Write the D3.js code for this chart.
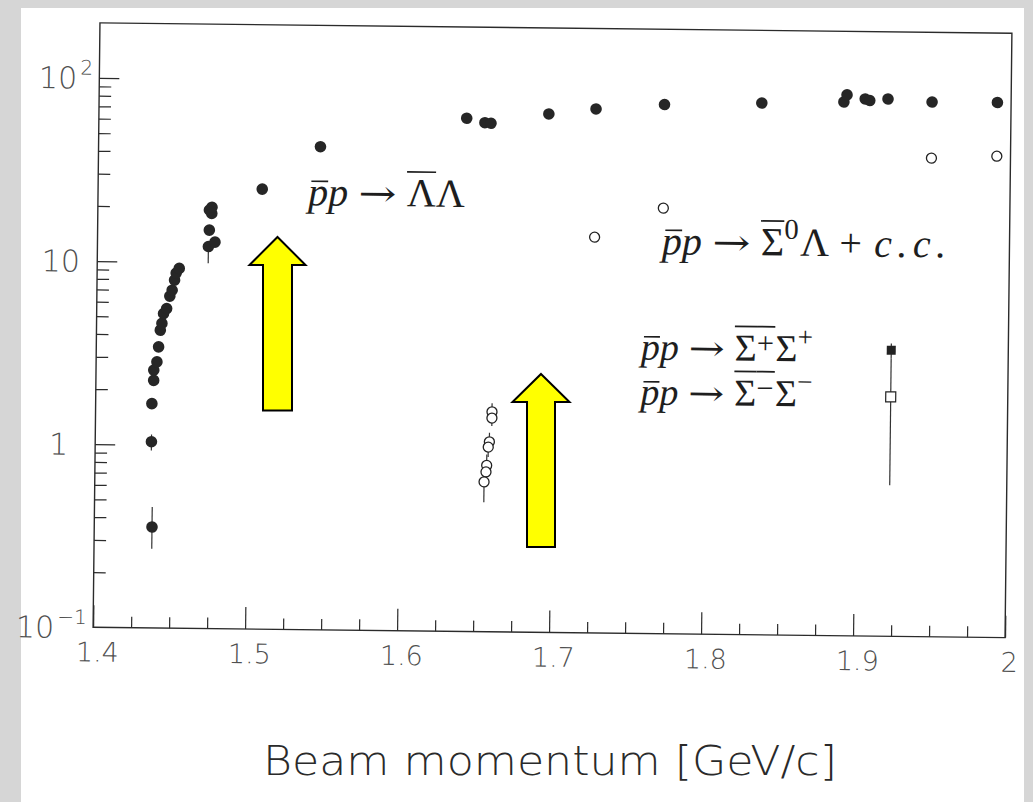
<!DOCTYPE html>
<html>
<head>
<meta charset="utf-8">
<script src="https://cdn.jsdelivr.net/npm/d3@7/dist/d3.min.js"></script>
<style>
  html, body { margin: 0; padding: 0; background: #d6d6d6; }
  svg { display: block; }
</style>
</head>
<body>
<svg id="chart" width="1033" height="802"></svg>
<script>
// ---- p̄p → Λ̄Λ cross sections (filled circles) ----
const lamP = [1.438, 1.437, 1.437, 1.438, 1.438, 1.440, 1.441, 1.442, 1.443, 1.444,
              1.446, 1.448, 1.4495, 1.451, 1.452, 1.454, 1.473, 1.4735, 1.4773, 1.475,
              1.4734, 1.4751, 1.508, 1.546, 1.642, 1.654, 1.658, 1.696, 1.727, 1.772,
              1.836, 1.890, 1.892, 1.904, 1.907, 1.919, 1.948, 1.991];
const lamXs = [0.356, 1.04, 1.68, 2.25, 2.56, 2.84, 3.43, 4.23, 4.61, 5.22,
               5.56, 6.50, 7.01, 7.96, 8.70, 9.23, 12.2, 15.0, 12.9, 18.5,
               19.3, 20.0, 25.3, 43.5, 63.5, 60.2, 59.8, 67.8, 72.7, 77.6,
               80.2, 82.2, 89.9, 85.7, 84.1, 85.9, 83.2, 83.5];
// error bars drawn for the Λ̄Λ points where they stick out of the marker
const lamErrP  = [1.438, 1.437, 1.473];
const lamErrLo = [0.271, 0.93, 9.9];
const lamErrHi = [0.458, 1.14, 12.2];

// ---- p̄p → Σ̄⁰Λ + c.c. (open circles) ----
const s0P  = [1.727, 1.772, 1.948, 1.991, 1.6608, 1.6608, 1.6593, 1.6586, 1.6577, 1.6573, 1.6561];
const s0Xs = [14.5, 21.1, 41.1, 42.5, 1.59, 1.47, 1.09, 1.02, 0.81, 0.746, 0.658];
const s0Lo = [14.5, 21.1, 41.1, 42.5, 1.45, 1.33, 0.97, 0.90, 0.70, 0.64, 0.51];
const s0Hi = [14.5, 21.1, 41.1, 42.5, 1.77, 1.62, 1.22, 1.14, 0.93, 0.86, 0.78];

// ---- p̄p → Σ̄⁺Σ⁺ (filled square) and p̄p → Σ̄⁻Σ⁻ (open square) ----
const spP  = [1.923];
const spXs = [3.65];
const spLo = [3.3];
const spHi = [3.97];
const smP  = [1.923];
const smXs = [2.03];
const smLo = [0.668];
const smHi = [3.3];

// axis ticks
const xMajor = [1.4, 1.5, 1.6, 1.7, 1.8, 1.9, 2.0];
const xMajorLabels = ["1.4", "1.5", "1.6", "1.7", "1.8", "1.9", "2"];
const yDecades = [0.1, 1, 10, 100];
const yDecadeBase = ["10", "1", "10", "10"];
const yDecadeExp  = ["\u22121", "", "", "2"];
const xTitle = "Beam momentum [GeV/c]";

// ---- layout ----
const svg = d3.select("#chart");
const W = 1033, H = 802;
const frame = { left: 96.5, right: 1008.5, top: 28, bottom: 632.5 };
const tilt = 0.65;             // the plotted page sits slightly askew
const ink = "#2b2b2b";
const labelInk = "#505050";
const sansLabel = "DejaVu Sans, Verdana, sans-serif";

svg.append("rect").attr("x", 21).attr("y", 8).attr("width", 1003).attr("height", H - 8)
   .attr("fill", "#ffffff");

const x = d3.scaleLinear().domain([1.4, 2.0]).range([frame.left, frame.right]);
const y = d3.scaleLog().domain([0.1, 200]).range([frame.bottom, frame.top]);

const plot = svg.append("g")
  .attr("transform", `rotate(${tilt}, ${(frame.left + frame.right) / 2}, ${(frame.top + frame.bottom) / 2})`);

// frame
plot.append("rect")
  .attr("x", frame.left).attr("y", frame.top)
  .attr("width", frame.right - frame.left).attr("height", frame.bottom - frame.top)
  .attr("fill", "none").attr("stroke", ink).attr("stroke-width", 1.4);

// x axis: major + minor ticks pointing inward
const xMinor = d3.range(0, 25).map(i => 1.4 + i * 0.025).filter(v => Math.abs((v * 10) - Math.round(v * 10)) > 1e-6);
const gx = plot.append("g").attr("transform", `translate(0,${frame.bottom})`);
gx.call(d3.axisBottom(x).tickValues(xMajor).tickSize(-22).tickPadding(15)
          .tickFormat((d, i) => xMajorLabels[i]));
gx.append("g").call(d3.axisBottom(x).tickValues(xMinor).tickSize(-11).tickFormat(""));
gx.selectAll(".domain").remove();
gx.selectAll("line").attr("stroke", ink).attr("stroke-width", 1.2);
gx.selectAll("text").attr("font-family", sansLabel).attr("font-weight", 200)
  .attr("font-size", 27).attr("fill", labelInk).attr("dx", 4);

// y axis: decade + minor ticks pointing inward
const yMinor = [];
[0.1, 1, 10].forEach(d => { for (let k = 2; k <= 9; k++) yMinor.push(d * k); });
const gy = plot.append("g").attr("transform", `translate(${frame.left},0)`);
gy.call(d3.axisLeft(y).tickValues(yDecades.slice(1)).tickSize(-20).tickFormat(""));
gy.append("g").call(d3.axisLeft(y).tickValues(yMinor).tickSize(-12).tickFormat(""));
gy.selectAll(".domain").remove();
gy.selectAll("line").attr("stroke", ink).attr("stroke-width", 1.2);

// decade labels with superscript exponents
yDecades.forEach((d, i) => {
  const t = plot.append("text")
    .attr("y", y(d)).attr("dy", "0.36em")
    .attr("font-family", sansLabel).attr("font-weight", 200).attr("font-size", 30)
    .attr("fill", labelInk);
  const base = t.append("tspan").text(yDecadeBase[i]);
  if (yDecadeExp[i]) {
    t.append("tspan").attr("dy", "-0.7em").attr("dx", 3).attr("font-size", 20).text(yDecadeExp[i]);
  }
  const bw = base.node().getComputedTextLength();
  const tw = t.node().getComputedTextLength() + (yDecadeExp[i] ? 3 : 0);
  // mantissa centred near x = 60, whole label kept clear of the axis
  let x0 = 60 - bw / 2;
  if (x0 + tw > 90) x0 = 90 - tw;
  t.attr("x", x0);
});

// ---- data marks ----
const errStroke = "#333";
function errBars(ps, lo, hi) {
  plot.append("g").selectAll("line").data(ps).join("line")
    .attr("x1", d => x(d)).attr("x2", d => x(d))
    .attr("y1", (d, i) => y(lo[i])).attr("y2", (d, i) => y(hi[i]))
    .attr("stroke", errStroke).attr("stroke-width", 1.2);
}
errBars(lamErrP, lamErrLo, lamErrHi);
errBars(s0P, s0Lo, s0Hi);
errBars(spP, spLo, spHi);
errBars(smP, smLo, smHi);

plot.append("g").selectAll("circle").data(lamP).join("circle")
  .attr("cx", d => x(d)).attr("cy", (d, i) => y(lamXs[i])).attr("r", 5.8)
  .attr("fill", "#262626");

plot.append("g").selectAll("circle").data(s0P).join("circle")
  .attr("cx", d => x(d)).attr("cy", (d, i) => y(s0Xs[i])).attr("r", 5)
  .attr("fill", "#ffffff").attr("stroke", "#222").attr("stroke-width", 1.3);

plot.append("g").selectAll("rect").data(spP).join("rect")
  .attr("x", d => x(d) - 4.5).attr("y", (d, i) => y(spXs[i]) - 4.5)
  .attr("width", 9).attr("height", 9).attr("fill", "#222");

plot.append("g").selectAll("rect").data(smP).join("rect")
  .attr("x", d => x(d) - 5).attr("y", (d, i) => y(smXs[i]) - 5)
  .attr("width", 10).attr("height", 10)
  .attr("fill", "#ffffff").attr("stroke", "#222").attr("stroke-width", 1.2);

// ---- reaction labels (math set in serif) ----
const serif = "Liberation Serif, Times New Roman, serif";
function mathLabel(x0, y0, parts, size) {
  const g = plot.append("g").attr("transform", `translate(${x0},${y0})`);
  let cx = 0;
  parts.forEach(p => {
    const fs = (p.scale || 1) * size;
    const xs = cx + (p.kern || 0) * size;
    const t = g.append("text")
      .attr("x", xs).attr("y", -(p.raise || 0) * size)
      .attr("font-family", p.font || serif)
      .attr("font-size", fs)
      .attr("font-style", p.it ? "italic" : "normal")
      .attr("fill", "#1e1e1e")
      .text(p.t);
    if (p.wide) t.attr("textLength", p.wide * size).attr("lengthAdjust", p.adjust || "spacingAndGlyphs");
    const w = p.wide ? p.wide * size : t.node().getComputedTextLength();
    if (p.bar) {
      g.append("line")
        .attr("x1", xs + (p.barIn || 0) * size).attr("x2", xs + w + (p.barOut || 0) * size)
        .attr("y1", -p.bar * size).attr("y2", -p.bar * size)
        .attr("stroke", "#1e1e1e").attr("stroke-width", 1.7);
    }
    cx = xs + w + (p.gap || 0) * size;
  });
}
const rel = 0.26;
const arrow = { t: "\u2192", font: "DejaVu Serif, serif", scale: 0.9, wide: 0.95, gap: rel };
const pbar = [{ t: "p", it: true, bar: 0.6, barIn: 0.08 }, { t: "p", it: true, gap: rel }];
mathLabel(306.5, 208, [
  ...pbar, arrow,
  { t: "\u039B", bar: 0.86 }, { t: "\u039B" }
], 40);
mathLabel(661, 253, [
  ...pbar, arrow,
  { t: "\u03A3", bar: 0.86 }, { t: "0", scale: 0.72, raise: 0.42, gap: 0.04 },
  { t: "\u039B", gap: 0.26 }, { t: "+", gap: 0.3 },
  { t: "c.c.", it: true, wide: 1.8, adjust: "spacing" }
], 40);
mathLabel(641, 358.5, [
  ...pbar, arrow,
  { t: "\u03A3", bar: 0.9 }, { t: "+", scale: 0.8, raise: 0.2, bar: 0.9, barOut: 0.03 },
  { t: "\u03A3", kern: 0.04 }, { t: "+", scale: 0.72, raise: 0.4 }
], 38);
mathLabel(641, 403.5, [
  ...pbar, arrow,
  { t: "\u03A3", bar: 0.9 }, { t: "\u2212", scale: 0.8, raise: 0.2, bar: 0.9, barOut: 0.03 },
  { t: "\u03A3", kern: 0.04 }, { t: "\u2212", scale: 0.72, raise: 0.4 }
], 38);

// ---- axis title ----
svg.append("text")
  .attr("x", 263).attr("y", 775)
  .attr("font-family", sansLabel).attr("font-weight", 200).attr("font-size", 40)
  .attr("fill", "#2a2a2a")
  .attr("textLength", 574).attr("lengthAdjust", "spacingAndGlyphs")
  .text(xTitle);

// ---- highlight arrows ----
function upArrow(cx, tipY, headY, bottomY, headHalf, shaftHalf) {
  const pts = [
    [cx, tipY], [cx + headHalf, headY], [cx + shaftHalf, headY], [cx + shaftHalf, bottomY],
    [cx - shaftHalf, bottomY], [cx - shaftHalf, headY], [cx - headHalf, headY]
  ];
  svg.append("polygon").attr("points", pts.map(p => p.join(",")).join(" "))
    .attr("fill", "#ffff00").attr("stroke", "#000").attr("stroke-width", 2)
    .attr("stroke-linejoin", "miter");
}
upArrow(277.5, 237, 265, 410.5, 28, 14.5);
upArrow(541, 374, 402, 547, 28.5, 14);
</script>
</body>
</html>
